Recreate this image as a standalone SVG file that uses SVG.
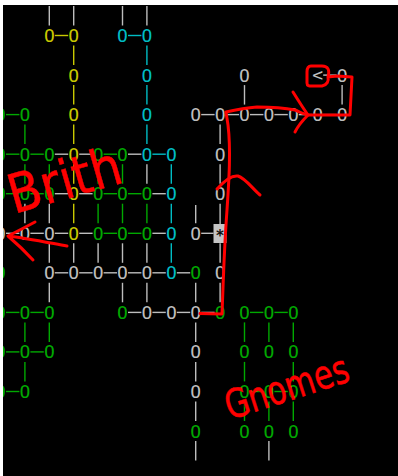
<svg xmlns="http://www.w3.org/2000/svg" width="398" height="476" viewBox="0 0 398 476">
<style>
.n{font-family:"DejaVu Sans Mono","Liberation Mono",monospace;font-size:18px;text-anchor:middle}
.gy{fill:#bdbdbd}.yl{fill:#c8c800}.cy{fill:#00bcc4}.gn{fill:#00a800}
#connectors line{stroke-width:1.4}
.sg{stroke:#bdbdbd}.sy{stroke:#c8c800}.sc{stroke:#00bcc4}.sn{stroke:#00a800}
.red{fill:none;stroke:#ff0000;stroke-width:3;stroke-linecap:round;stroke-linejoin:round}
.hand{font-family:"DejaVu Sans","Liberation Sans",sans-serif;font-weight:normal;fill:#ff0000;stroke:#ff0000;stroke-width:0.5}
</style>
<rect x="0" y="0" width="398" height="476" fill="#000"/>
<g id="connectors">
<line class="sg" x1="49.3" y1="6" x2="49.3" y2="25.5"/><line class="sg" x1="73.7" y1="6" x2="73.7" y2="25.5"/>
<line class="sg" x1="122.5" y1="6" x2="122.5" y2="25.5"/><line class="sg" x1="146.9" y1="6" x2="146.9" y2="25.5"/>
<line class="sy" x1="54.8" y1="35.5" x2="68.2" y2="35.5"/><line class="sc" x1="128" y1="35.5" x2="141.4" y2="35.5"/>
<line class="sy" x1="73.7" y1="45.5" x2="73.7" y2="65"/><line class="sc" x1="146.9" y1="45.5" x2="146.9" y2="65"/>
<line class="sg" x1="323.2" y1="75.1" x2="336.6" y2="75.1"/>
<line class="sy" x1="73.7" y1="85.1" x2="73.7" y2="104.6"/><line class="sc" x1="146.9" y1="85.1" x2="146.9" y2="104.6"/>
<line class="sg" x1="244.5" y1="85.1" x2="244.5" y2="104.6"/><line class="sg" x1="342.1" y1="85.1" x2="342.1" y2="104.6"/>
<line class="sn" x1="6" y1="114.6" x2="19.4" y2="114.6"/>
<line class="sg" x1="201.2" y1="114.6" x2="214.6" y2="114.6"/><line class="sg" x1="225.6" y1="114.6" x2="239" y2="114.6"/>
<line class="sg" x1="250" y1="114.6" x2="263.4" y2="114.6"/><line class="sg" x1="274.4" y1="114.6" x2="287.8" y2="114.6"/>
<line class="sg" x1="298.8" y1="114.6" x2="312.2" y2="114.6"/><line class="sg" x1="323.2" y1="114.6" x2="336.6" y2="114.6"/>
<line class="sn" x1="24.9" y1="124.6" x2="24.9" y2="144.1"/><line class="sy" x1="73.7" y1="124.6" x2="73.7" y2="144.1"/>
<line class="sc" x1="146.9" y1="124.6" x2="146.9" y2="144.1"/><line class="sg" x1="220.1" y1="124.6" x2="220.1" y2="144.1"/>
<line class="sn" x1="6" y1="154.2" x2="19.4" y2="154.2"/><line class="sn" x1="30.4" y1="154.2" x2="43.8" y2="154.2"/>
<line class="sg" x1="54.8" y1="154.2" x2="68.2" y2="154.2"/><line class="sg" x1="79.2" y1="154.2" x2="92.6" y2="154.2"/>
<line class="sn" x1="103.6" y1="154.2" x2="117" y2="154.2"/><line class="sg" x1="128" y1="154.2" x2="141.4" y2="154.2"/>
<line class="sc" x1="152.4" y1="154.2" x2="165.8" y2="154.2"/>
<line class="sn" x1="24.9" y1="164.2" x2="24.9" y2="183.7"/><line class="sn" x1="49.3" y1="164.2" x2="49.3" y2="183.7"/>
<line class="sy" x1="73.7" y1="164.2" x2="73.7" y2="183.7"/><line class="sn" x1="98.1" y1="164.2" x2="98.1" y2="183.7"/>
<line class="sn" x1="122.5" y1="164.2" x2="122.5" y2="183.7"/><line class="sg" x1="146.9" y1="164.2" x2="146.9" y2="183.7"/>
<line class="sc" x1="171.3" y1="164.2" x2="171.3" y2="183.7"/><line class="sg" x1="220.1" y1="164.2" x2="220.1" y2="183.7"/>
<line class="sn" x1="6" y1="193.7" x2="19.4" y2="193.7"/><line class="sn" x1="30.4" y1="193.7" x2="43.8" y2="193.7"/>
<line class="sg" x1="54.8" y1="193.7" x2="68.2" y2="193.7"/><line class="sg" x1="79.2" y1="193.7" x2="92.6" y2="193.7"/>
<line class="sn" x1="103.6" y1="193.7" x2="117" y2="193.7"/><line class="sn" x1="128" y1="193.7" x2="141.4" y2="193.7"/>
<line class="sg" x1="152.4" y1="193.7" x2="165.8" y2="193.7"/>
<line class="sg" x1="24.9" y1="203.7" x2="24.9" y2="223.2"/><line class="sg" x1="49.3" y1="203.7" x2="49.3" y2="223.2"/>
<line class="sy" x1="73.7" y1="203.7" x2="73.7" y2="223.2"/><line class="sn" x1="98.1" y1="203.7" x2="98.1" y2="223.2"/>
<line class="sn" x1="122.5" y1="203.7" x2="122.5" y2="223.2"/><line class="sn" x1="146.9" y1="203.7" x2="146.9" y2="223.2"/>
<line class="sc" x1="171.3" y1="203.7" x2="171.3" y2="223.2"/><line class="sg" x1="195.7" y1="205" x2="195.7" y2="223.2"/>
<line class="sg" x1="220.1" y1="203.7" x2="220.1" y2="224"/>
<line class="sg" x1="6" y1="233.3" x2="19.4" y2="233.3"/><line class="sg" x1="30.4" y1="233.3" x2="43.8" y2="233.3"/>
<line class="sg" x1="54.8" y1="233.3" x2="68.2" y2="233.3"/><line class="sg" x1="79.2" y1="233.3" x2="92.6" y2="233.3"/>
<line class="sn" x1="103.6" y1="233.3" x2="117" y2="233.3"/><line class="sn" x1="128" y1="233.3" x2="141.4" y2="233.3"/>
<line class="sg" x1="152.4" y1="233.3" x2="165.8" y2="233.3"/><line class="sg" x1="201.2" y1="233.3" x2="213.5" y2="233.3"/>
<line class="sg" x1="49.3" y1="243.3" x2="49.3" y2="262.8"/><line class="sg" x1="73.7" y1="243.3" x2="73.7" y2="262.8"/>
<line class="sg" x1="98.1" y1="243.3" x2="98.1" y2="262.8"/><line class="sg" x1="122.5" y1="243.3" x2="122.5" y2="262.8"/>
<line class="sg" x1="146.9" y1="243.3" x2="146.9" y2="262.8"/><line class="sc" x1="171.3" y1="243.3" x2="171.3" y2="262.8"/>
<line class="sg" x1="220.1" y1="243.3" x2="220.1" y2="262.8"/>
<line class="sg" x1="54.8" y1="272.8" x2="68.2" y2="272.8"/><line class="sg" x1="79.2" y1="272.8" x2="92.6" y2="272.8"/>
<line class="sg" x1="103.6" y1="272.8" x2="117" y2="272.8"/><line class="sg" x1="128" y1="272.8" x2="141.4" y2="272.8"/>
<line class="sg" x1="152.4" y1="272.8" x2="165.8" y2="272.8"/><line class="sg" x1="176.8" y1="272.8" x2="190.2" y2="272.8"/>
<line class="sg" x1="49.3" y1="282.8" x2="49.3" y2="302.3"/><line class="sg" x1="122.5" y1="282.8" x2="122.5" y2="302.3"/>
<line class="sg" x1="146.9" y1="282.8" x2="146.9" y2="302.3"/><line class="sg" x1="195.7" y1="282.8" x2="195.7" y2="302.3"/>
<line class="sg" x1="220.1" y1="282.8" x2="220.1" y2="302.3"/>
<line class="sn" x1="6" y1="312.4" x2="19.4" y2="312.4"/><line class="sn" x1="30.4" y1="312.4" x2="43.8" y2="312.4"/>
<line class="sg" x1="128" y1="312.4" x2="141.4" y2="312.4"/><line class="sg" x1="152.4" y1="312.4" x2="165.8" y2="312.4"/>
<line class="sg" x1="176.8" y1="312.4" x2="190.2" y2="312.4"/><line class="sg" x1="201.2" y1="312.4" x2="214.6" y2="312.4"/>
<line class="sn" x1="250" y1="312.4" x2="263.4" y2="312.4"/><line class="sn" x1="274.4" y1="312.4" x2="287.8" y2="312.4"/>
<line class="sn" x1="24.9" y1="322.4" x2="24.9" y2="341.9"/><line class="sn" x1="49.3" y1="322.4" x2="49.3" y2="341.9"/>
<line class="sg" x1="195.7" y1="322.4" x2="195.7" y2="341.9"/><line class="sn" x1="244.5" y1="322.4" x2="244.5" y2="341.9"/>
<line class="sn" x1="268.9" y1="322.4" x2="268.9" y2="341.9"/><line class="sn" x1="293.3" y1="322.4" x2="293.3" y2="341.9"/>
<line class="sn" x1="6" y1="351.9" x2="19.4" y2="351.9"/><line class="sn" x1="30.4" y1="351.9" x2="43.8" y2="351.9"/>
<line class="sn" x1="24.9" y1="361.9" x2="24.9" y2="381.4"/><line class="sg" x1="195.7" y1="361.9" x2="195.7" y2="381.4"/>
<line class="sn" x1="244.5" y1="361.9" x2="244.5" y2="381.4"/><line class="sn" x1="293.3" y1="361.9" x2="293.3" y2="381.4"/>
<line class="sn" x1="6" y1="391.5" x2="19.4" y2="391.5"/>
<line class="sn" x1="250" y1="391.5" x2="263.4" y2="391.5"/><line class="sn" x1="274.4" y1="391.5" x2="287.8" y2="391.5"/>
<line class="sg" x1="195.7" y1="401.5" x2="195.7" y2="421"/><line class="sn" x1="244.5" y1="401.5" x2="244.5" y2="421"/>
<line class="sn" x1="268.9" y1="401.5" x2="268.9" y2="421"/><line class="sn" x1="293.3" y1="401.5" x2="293.3" y2="421"/>
<line class="sg" x1="195.7" y1="441" x2="195.7" y2="460.5"/><line class="sg" x1="268.9" y1="441" x2="268.9" y2="460.5"/>
</g>
<g id="nodes">
<g id="n0-2"><text class="n yl" x="49.3" y="42">O</text></g>
<g id="n0-3"><text class="n yl" x="73.7" y="42">O</text></g>
<g id="n0-5"><text class="n cy" x="122.5" y="42">O</text></g>
<g id="n0-6"><text class="n cy" x="146.9" y="42">O</text></g>
<g id="n1-3"><text class="n yl" x="73.7" y="81.6">O</text></g>
<g id="n1-6"><text class="n cy" x="146.9" y="81.6">O</text></g>
<g id="n1-10"><text class="n gy" x="244.5" y="81.6">O</text></g>
<g id="n1-13"><text class="n gy" x="317.7" y="80.6">&lt;</text></g>
<g id="n1-14"><text class="n gy" x="342.1" y="81.6">O</text></g>
<g id="n2-0"><text class="n gn" x="0.5" y="121.1">O</text></g>
<g id="n2-1"><text class="n gn" x="24.9" y="121.1">O</text></g>
<g id="n2-3"><text class="n yl" x="73.7" y="121.1">O</text></g>
<g id="n2-6"><text class="n cy" x="146.9" y="121.1">O</text></g>
<g id="n2-8"><text class="n gy" x="195.7" y="121.1">O</text></g>
<g id="n2-9"><text class="n gy" x="220.1" y="121.1">O</text></g>
<g id="n2-10"><text class="n gy" x="244.5" y="121.1">O</text></g>
<g id="n2-11"><text class="n gy" x="268.9" y="121.1">O</text></g>
<g id="n2-12"><text class="n gy" x="293.3" y="121.1">O</text></g>
<g id="n2-13"><text class="n gy" x="317.7" y="121.1">O</text></g>
<g id="n2-14"><text class="n gy" x="342.1" y="121.1">O</text></g>
<g id="n3-0"><text class="n gn" x="0.5" y="160.7">O</text></g>
<g id="n3-1"><text class="n gn" x="24.9" y="160.7">O</text></g>
<g id="n3-2"><text class="n gn" x="49.3" y="160.7">O</text></g>
<g id="n3-3"><text class="n yl" x="73.7" y="160.7">O</text></g>
<g id="n3-4"><text class="n gn" x="98.1" y="160.7">O</text></g>
<g id="n3-5"><text class="n gn" x="122.5" y="160.7">O</text></g>
<g id="n3-6"><text class="n cy" x="146.9" y="160.7">O</text></g>
<g id="n3-7"><text class="n cy" x="171.3" y="160.7">O</text></g>
<g id="n3-9"><text class="n gy" x="220.1" y="160.7">O</text></g>
<g id="n4-0"><text class="n gn" x="0.5" y="200.2">O</text></g>
<g id="n4-1"><text class="n gn" x="24.9" y="200.2">O</text></g>
<g id="n4-2"><text class="n gn" x="49.3" y="200.2">O</text></g>
<g id="n4-3"><text class="n yl" x="73.7" y="200.2">O</text></g>
<g id="n4-4"><text class="n gn" x="98.1" y="200.2">O</text></g>
<g id="n4-5"><text class="n gn" x="122.5" y="200.2">O</text></g>
<g id="n4-6"><text class="n gn" x="146.9" y="200.2">O</text></g>
<g id="n4-7"><text class="n cy" x="171.3" y="200.2">O</text></g>
<g id="n4-9"><text class="n gy" x="220.1" y="200.2">O</text></g>
<g id="n5-0"><text class="n gy" x="0.5" y="239.8">O</text></g>
<g id="n5-1"><text class="n gy" x="24.9" y="239.8">O</text></g>
<g id="n5-2"><text class="n gy" x="49.3" y="239.8">O</text></g>
<g id="n5-3"><text class="n yl" x="73.7" y="239.8">O</text></g>
<g id="n5-4"><text class="n gn" x="98.1" y="239.8">O</text></g>
<g id="n5-5"><text class="n gn" x="122.5" y="239.8">O</text></g>
<g id="n5-6"><text class="n gn" x="146.9" y="239.8">O</text></g>
<g id="n5-7"><text class="n cy" x="171.3" y="239.8">O</text></g>
<g id="n5-8"><text class="n gy" x="195.7" y="239.8">O</text></g>
<g id="n5-9"><rect x="213.5" y="224" width="13" height="19" fill="#c4c4c4"/><text x="220.1" y="241" font-family="DejaVu Sans Mono,monospace" font-size="15" font-weight="bold" text-anchor="middle" fill="#111">*</text></g>
<g id="n6-0"><text class="n gn" x="0.5" y="279.3">O</text></g>
<g id="n6-2"><text class="n gy" x="49.3" y="279.3">O</text></g>
<g id="n6-3"><text class="n gy" x="73.7" y="279.3">O</text></g>
<g id="n6-4"><text class="n gy" x="98.1" y="279.3">O</text></g>
<g id="n6-5"><text class="n gy" x="122.5" y="279.3">O</text></g>
<g id="n6-6"><text class="n gy" x="146.9" y="279.3">O</text></g>
<g id="n6-7"><text class="n cy" x="171.3" y="279.3">O</text></g>
<g id="n6-8"><text class="n gn" x="195.7" y="279.3">O</text></g>
<g id="n6-9"><text class="n gy" x="220.1" y="279.3">O</text></g>
<g id="n7-0"><text class="n gn" x="0.5" y="318.9">O</text></g>
<g id="n7-1"><text class="n gn" x="24.9" y="318.9">O</text></g>
<g id="n7-2"><text class="n gn" x="49.3" y="318.9">O</text></g>
<g id="n7-5"><text class="n gn" x="122.5" y="318.9">O</text></g>
<g id="n7-6"><text class="n gy" x="146.9" y="318.9">O</text></g>
<g id="n7-7"><text class="n gy" x="171.3" y="318.9">O</text></g>
<g id="n7-8"><text class="n gy" x="195.7" y="318.9">O</text></g>
<g id="n7-9"><text class="n gn" x="220.1" y="318.9">O</text></g>
<g id="n7-10"><text class="n gn" x="244.5" y="318.9">O</text></g>
<g id="n7-11"><text class="n gn" x="268.9" y="318.9">O</text></g>
<g id="n7-12"><text class="n gn" x="293.3" y="318.9">O</text></g>
<g id="n8-0"><text class="n gn" x="0.5" y="358.4">O</text></g>
<g id="n8-1"><text class="n gn" x="24.9" y="358.4">O</text></g>
<g id="n8-2"><text class="n gn" x="49.3" y="358.4">O</text></g>
<g id="n8-8"><text class="n gy" x="195.7" y="358.4">O</text></g>
<g id="n8-10"><text class="n gn" x="244.5" y="358.4">O</text></g>
<g id="n8-11"><text class="n gn" x="268.9" y="358.4">O</text></g>
<g id="n8-12"><text class="n gn" x="293.3" y="358.4">O</text></g>
<g id="n9-0"><text class="n gn" x="0.5" y="398">O</text></g>
<g id="n9-1"><text class="n gn" x="24.9" y="398">O</text></g>
<g id="n9-8"><text class="n gy" x="195.7" y="398">O</text></g>
<g id="n9-10"><text class="n gn" x="244.5" y="398">O</text></g>
<g id="n9-11"><text class="n gn" x="268.9" y="398">O</text></g>
<g id="n9-12"><text class="n gn" x="293.3" y="398">O</text></g>
<g id="n10-8"><text class="n gn" x="195.7" y="437.5">O</text></g>
<g id="n10-10"><text class="n gn" x="244.5" y="437.5">O</text></g>
<g id="n10-11"><text class="n gn" x="268.9" y="437.5">O</text></g>
<g id="n10-12"><text class="n gn" x="293.3" y="437.5">O</text></g>
</g>
<g id="annotations">
<path class="red" d="M200,313.5 L222,314 C223,290 224,250 227,210 C229,180 231,150 228,125 L226,112 C235,110 245,108 257,107 C270,107 285,108 295,110 C300,112 304,114 308,115 L350,115 L352,77 L337,76 L328,77 C330,70 328,66 322,66 L311,66 C308,66 307,68 307,72 L307,83 C307,86 309,86 312,86 L322,86 C327,85 329,81 328,77"/>
<path class="red" d="M293,92 C298,100 303,108 308,115 C303,120 298,126 295,132"/>
<path class="red" d="M217,189 C225,180 232,175 238,176 C245,178 252,188 260,195"/>
<path class="red" d="M8,236 C25,238 45,242 67,246 M35,222 Q20,230 8,236 Q22,248 33,260"/>
<text class="hand" transform="translate(14,214) rotate(-16)" font-size="54" textLength="116" lengthAdjust="spacingAndGlyphs">Brith</text>
<text class="hand" transform="translate(230,420) rotate(-18)" font-size="40" textLength="128" lengthAdjust="spacingAndGlyphs">Gnomes</text>
</g>
<rect x="0" y="0" width="398" height="5" fill="#fff"/>
<rect x="0" y="0" width="3" height="476" fill="#fff"/>
</svg>
